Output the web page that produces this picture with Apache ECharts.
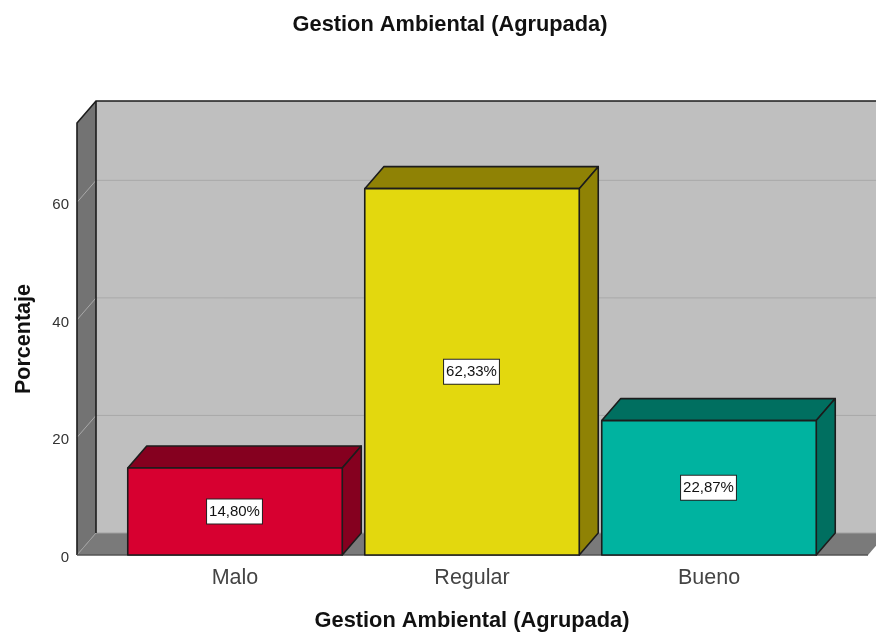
<!DOCTYPE html>
<html>
<head>
<meta charset="utf-8">
<style>html,body{margin:0;padding:0;background:#fff}#c{width:876px;height:634px}</style>
<script src="https://cdn.jsdelivr.net/npm/echarts@6/dist/echarts.min.js"></script>
</head>
<body>
<div id="c"></div>
<script>
const chartTitle = 'Gestion Ambiental (Agrupada)';
const categories = ['Malo', 'Regular', 'Bueno'];
const percentages = [14.80, 62.33, 22.87];
const pointLabels = ['14,80%', '62,33%', '22,87%'];
const yTicks = [0, 20, 40, 60];
const frontColors = ['#d70030', '#e3d80e', '#00b3a0'];
const shadeColors = ['#85001f', '#8f8205', '#006f60'];

const DX = 19, DY = -22, LINE = '#1c1c1c';
const chart = echarts.init(document.getElementById('c'), null, {renderer: 'canvas'});
const FONT = '"Liberation Sans", Arial, sans-serif';

function poly(points, fill, stroke, lw) {
  return {type: 'polygon', shape: {points}, style: {fill, stroke: stroke || null, lineWidth: lw || 0, lineJoin: 'round'}};
}

function renderWalls(params, api) {
  const cs = params.coordSys;
  const L = cs.x - 39.5, R = cs.x + 751.5, T = cs.y, B = cs.y + cs.height;
  const children = [
    poly([[L + DX, T + DY], [R + DX, T + DY], [R + DX, B + DY], [L + DX, B + DY]], '#bfbfbf'),
    poly([[L, T], [L + DX, T + DY], [L + DX, B + DY], [L, B]], '#737373'),
    poly([[L, B], [L + DX, B + DY], [R + DX, B + DY], [R, B]], '#7a7a7a')
  ];
  yTicks.forEach(t => {
    const y = api.coord([0, t])[1];
    children.push({type: 'polyline', shape: {points: [[L, y], [L + DX, y + DY], [R + DX, y + DY]]},
      style: {fill: null, stroke: t === 0 ? '#a0a0a0' : '#a9a9a9', lineWidth: 1}});
  });
  children.push(
    {type: 'polyline', shape: {points: [[L, B], [L, T], [L + DX, T + DY], [R + DX, T + DY]]}, style: {fill: null, stroke: LINE, lineWidth: 1.6}},
    {type: 'line', shape: {x1: L + DX, y1: T + DY, x2: L + DX, y2: B + DY}, style: {stroke: LINE, lineWidth: 1.6}},
    {type: 'line', shape: {x1: L, y1: B, x2: R, y2: B}, style: {stroke: '#555', lineWidth: 1.4}}
  );
  return {type: 'group', children};
}

function renderBar(params, api) {
  const i = api.value(0);
  const base = api.coord([i, 0]);
  const top = api.coord([i, api.value(1)]);
  const w = api.size([1, 0])[0] * 0.905;
  const x0 = base[0] - w / 2, x1 = base[0] + w / 2, yb = base[1], yt = top[1];
  const s = {stroke: LINE, lw: 1.6};
  return {type: 'group', children: [
    poly([[x0, yt], [x0 + DX, yt + DY], [x1 + DX, yt + DY], [x1, yt]], shadeColors[i], s.stroke, s.lw),
    poly([[x1, yt], [x1 + DX, yt + DY], [x1 + DX, yb + DY], [x1, yb]], shadeColors[i], s.stroke, s.lw),
    poly([[x0, yt], [x1, yt], [x1, yb], [x0, yb]], frontColors[i], s.stroke, s.lw),
    {type: 'text', x: base[0] - 0.5, y: (yt + yb) / 2, z2: 10, style: {
      text: pointLabels[i], align: 'center', verticalAlign: 'middle', fontFamily: FONT, fontSize: 15, fill: '#111',
      backgroundColor: '#fff', borderColor: '#222', borderWidth: 1, padding: [5, 2, 4, 2]
    }}
  ]};
}

chart.setOption({
  animation: false,
  backgroundColor: '#fff',
  title: {text: chartTitle, left: 445, top: 9, textAlign: 'center',
    textStyle: {fontFamily: FONT, fontSize: 21.8, fontWeight: 'bold', color: '#111'}},
  grid: {left: 116.5, width: 711, top: 123, height: 432, outerBoundsMode: 'none'},
  xAxis: {
    type: 'category', data: categories,
    axisLine: {show: false}, axisTick: {show: false}, splitLine: {show: false},
    axisLabel: {fontFamily: FONT, fontSize: 21.5, color: '#444', margin: 12},
    name: chartTitle, nameLocation: 'middle', nameGap: 55,
    nameTextStyle: {fontFamily: FONT, fontSize: 21.8, fontWeight: 'bold', color: '#111'}
  },
  yAxis: {
    type: 'value', min: 0, max: 73.5, interval: 20, offset: 39.5,
    axisLine: {show: false}, axisTick: {show: false}, splitLine: {show: false},
    axisLabel: {fontFamily: FONT, fontSize: 15, color: '#333', margin: 8,
      verticalAlign: 'top', lineHeight: 5, customValues: yTicks},
    name: 'Porcentaje', nameLocation: 'middle', nameGap: 42, nameRotate: 90,
    nameTextStyle: {fontFamily: FONT, fontSize: 21.5, fontWeight: 'bold', color: '#111'}
  },
  series: [
    {type: 'custom', z: 1, silent: true, clip: false, renderItem: renderWalls, data: [[0, 0]], encode: {x: 0, y: 1}},
    {type: 'custom', z: 2, clip: false, renderItem: renderBar,
      data: percentages.map((v, i) => [i, v]), encode: {x: 0, y: 1}}
  ]
});
</script>
</body>
</html>
